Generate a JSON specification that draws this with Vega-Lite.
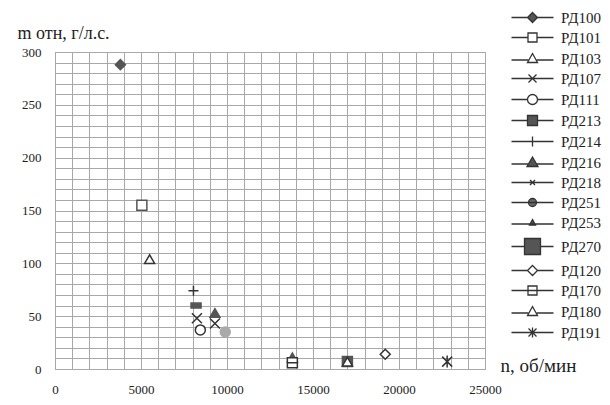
{
  "$schema": "https://vega.github.io/schema/vega-lite/v6.json",
  "width": 430,
  "height": 317,
  "autosize": "none",
  "padding": {"left": 55, "top": 52, "right": 125, "bottom": 36},
  "background": "white",
  "config": {
    "font": "Liberation Serif",
    "view": {"stroke": "#999"},
    "axis": {"labelFont": "Liberation Serif", "titleFont": "Liberation Serif", "labelFontSize": 13, "labelColor": "#222", "titleColor": "#222", "gridColor": "#a8a8a8", "gridOpacity": 1, "domain": false, "ticks": false},
    "legend": {"labelFont": "Liberation Serif"}
  },
  "data": {"values": [
    {"series": "РД100", "n": 3800, "m": 288},
    {"series": "РД101", "n": 5050, "m": 155},
    {"series": "РД103", "n": 5500, "m": 104},
    {"series": "РД107", "n": 8250, "m": 48},
    {"series": "РД111", "n": 8450, "m": 37},
    {"series": "РД213", "n": 8200, "m": 60},
    {"series": "РД214", "n": 8050, "m": 74},
    {"series": "РД216", "n": 13800, "m": 11},
    {"series": "РД218", "n": 9300, "m": 43},
    {"series": "РД251", "n": 9900, "m": 35},
    {"series": "РД253", "n": 9300, "m": 53},
    {"series": "РД270", "n": 17000, "m": 7},
    {"series": "РД120", "n": 19200, "m": 14},
    {"series": "РД170", "n": 13800, "m": 6},
    {"series": "РД180", "n": 17000, "m": 7},
    {"series": "РД191", "n": 22800, "m": 7}
  ]},
  "encoding": {
    "x": {"field": "n", "type": "quantitative",
      "scale": {"domain": [0, 25000], "nice": false},
      "axis": {"values": [0,1000,2000,3000,4000,5000,6000,7000,8000,9000,10000,11000,12000,13000,14000,15000,16000,17000,18000,19000,20000,21000,22000,23000,24000,25000],
        "labelExpr": "datum.value % 5000 == 0 ? datum.value : ''", "format": "d", "labelPadding": 14,
        "title": "n, об/мин", "titleFontSize": 19, "titleFontWeight": "normal", "titleX": 445, "titleY": -4, "titleAlign": "left", "titleBaseline": "middle", "labelFlush": false, "labelOverlap": false}},
    "y": {"field": "m", "type": "quantitative",
      "scale": {"domain": [0, 300], "nice": false},
      "axis": {"values": [0,10,20,30,40,50,60,70,80,90,100,110,120,130,140,150,160,170,180,190,200,210,220,230,240,250,260,270,280,290,300],
        "labelExpr": "datum.value % 50 == 0 ? datum.value : ''", "labelPadding": 14,
        "title": "m отн, г/л.с.", "titleFontSize": 18, "titleFontWeight": "normal", "titleAngle": 0, "titleX": -38, "titleY": -19, "titleAlign": "left", "titleBaseline": "middle", "labelOverlap": false}}
  },
  "layer": [
    {
      "mark": {"type": "point", "strokeWidth": 1.5, "opacity": 1},
      "encoding": {
        "shape": {"field": "series", "type": "nominal", "legend": null,
          "scale": {"domain": ["РД100","РД101","РД103","РД107","РД111","РД213","РД214","РД216","РД218","РД251","РД253","РД270","РД120","РД170","РД180","РД191"],
            "range": ["diamond","square","triangle-up","M-1,-1L1,1M-1,1L1,-1","circle","M-1,-0.5H1V0.5H-1Z","M-1,0H1M0,-1V1","triangle-up","M-1,-1L1,1M-1,1L1,-1","circle","triangle-up","square","diamond","M-1,-1H1V1H-1ZM-1,0H1","triangle-up","M-1,-1L1,1M-1,1L1,-1M0,-1.2V1.2"]}},
        "fill": {"field": "series", "type": "nominal", "legend": null,
          "scale": {"domain": ["РД100","РД101","РД103","РД107","РД111","РД213","РД214","РД216","РД218","РД251","РД253","РД270","РД120","РД170","РД180","РД191"],
            "range": ["#555","white","white","white","white","#555","white","#555","white","#aaa","#555","#555","white","white","white","white"]}},
        "stroke": {"field": "series", "type": "nominal", "legend": null,
          "scale": {"domain": ["РД100","РД101","РД103","РД107","РД111","РД213","РД214","РД216","РД218","РД251","РД253","РД270","РД120","РД170","РД180","РД191"],
            "range": ["#555","#555","#333","#333","#333","#555","#333","#555","#333","#aaa","#555","#555","#333","#333","#333","#333"]}},
        "size": {"field": "series", "type": "nominal", "legend": null,
          "scale": {"domain": ["РД100","РД101","РД103","РД107","РД111","РД213","РД214","РД216","РД218","РД251","РД253","РД270","РД120","РД170","РД180","РД191"],
            "range": [100,100,110,60,130,130,90,90,35,80,35,330,80,90,110,70]}}
      }
    },
    {
      "mark": {"type": "point", "strokeWidth": 1.3, "opacity": 0, "size": 90},
      "encoding": {
        "shape": {"field": "series", "type": "nominal",
          "scale": {"domain": ["РД100","РД101","РД103","РД107","РД111","РД213","РД214","РД216","РД218","РД251","РД253","РД270","РД120","РД170","РД180","РД191"],
            "range": [
              "M-4.2,0H-1M1,0H4.2M0,-1L1,0L0,1L-1,0Z",
              "M-4.2,0H-0.9M0.9,0H4.2M-0.9,-0.9H0.9V0.9H-0.9Z",
              "M-4.2,0.3H-0.85M0.85,0.3H4.2M0,-1L1,0.8H-1Z",
              "M-4.2,0H4.2M-0.8,-0.8L0.8,0.8M-0.8,0.8L0.8,-0.8",
              "M-4.2,0H-1M1,0H4.2M-1,0A1,1,0,1,0,1,0A1,1,0,1,0,-1,0Z",
              "M-4.2,0H-1M1,0H4.2M-1,-1H1V1H-1Z",
              "M-4.2,0H4.2M0,-1V1",
              "M-4.2,0.3H-0.85M0.85,0.3H4.2M0,-1.1L1.1,0.8H-1.1Z",
              "M-4.2,0H4.2M-0.5,-0.5L0.5,0.5M-0.5,0.5L0.5,-0.5",
              "M-4.2,0H4.2M-0.8,0A0.8,0.8,0,1,0,0.8,0A0.8,0.8,0,1,0,-0.8,0Z",
              "M-4.2,0.3H4.2M0,-0.6L0.6,0.5H-0.6Z",
              "M-4.2,0H-1.6M1.6,0H4.2M-1.6,-1.6H1.6V1.6H-1.6Z",
              "M-4.2,0H-1M1,0H4.2M0,-1L1,0L0,1L-1,0Z",
              "M-4.2,0H4.2M-0.9,-0.9H0.9V0.9H-0.9Z",
              "M-4.2,0.3H-0.85M0.85,0.3H4.2M0,-1L1,0.8H-1Z",
              "M-4.2,0H4.2M-0.8,-0.8L0.8,0.8M-0.8,0.8L0.8,-0.8M0,-1V1"]},
          "legend": {"title": null, "orient": "none", "legendX": 470, "legendY": -42, "labelFontSize": 15, "labelColor": "#222", "rowPadding": 4, "symbolStrokeWidth": 1.3, "symbolOpacity": 1, "labelOffset": 21}},
        "fill": {"field": "series", "type": "nominal",
          "scale": {"domain": ["РД100","РД101","РД103","РД107","РД111","РД213","РД214","РД216","РД218","РД251","РД253","РД270","РД120","РД170","РД180","РД191"],
            "range": ["#555","white","white","white","white","#555","white","#555","white","#666","#555","#555","white","white","white","white"]},
          "legend": {"title": null, "orient": "none", "legendX": 470, "legendY": -42, "labelFontSize": 15, "labelColor": "#222", "rowPadding": 4, "symbolStrokeWidth": 1.3, "symbolOpacity": 1, "labelOffset": 21}},
        "stroke": {"field": "series", "type": "nominal",
          "scale": {"domain": ["РД100","РД101","РД103","РД107","РД111","РД213","РД214","РД216","РД218","РД251","РД253","РД270","РД120","РД170","РД180","РД191"],
            "range": ["#333","#333","#333","#333","#333","#333","#333","#333","#333","#333","#333","#333","#333","#333","#333","#333"]},
          "legend": {"title": null, "orient": "none", "legendX": 470, "legendY": -42, "labelFontSize": 15, "labelColor": "#222", "rowPadding": 4, "symbolStrokeWidth": 1.3, "symbolOpacity": 1, "labelOffset": 21}}
      }
    }
  ],
  "resolve": {"scale": {"shape": "independent", "fill": "independent", "stroke": "independent", "size": "independent"}}
}
